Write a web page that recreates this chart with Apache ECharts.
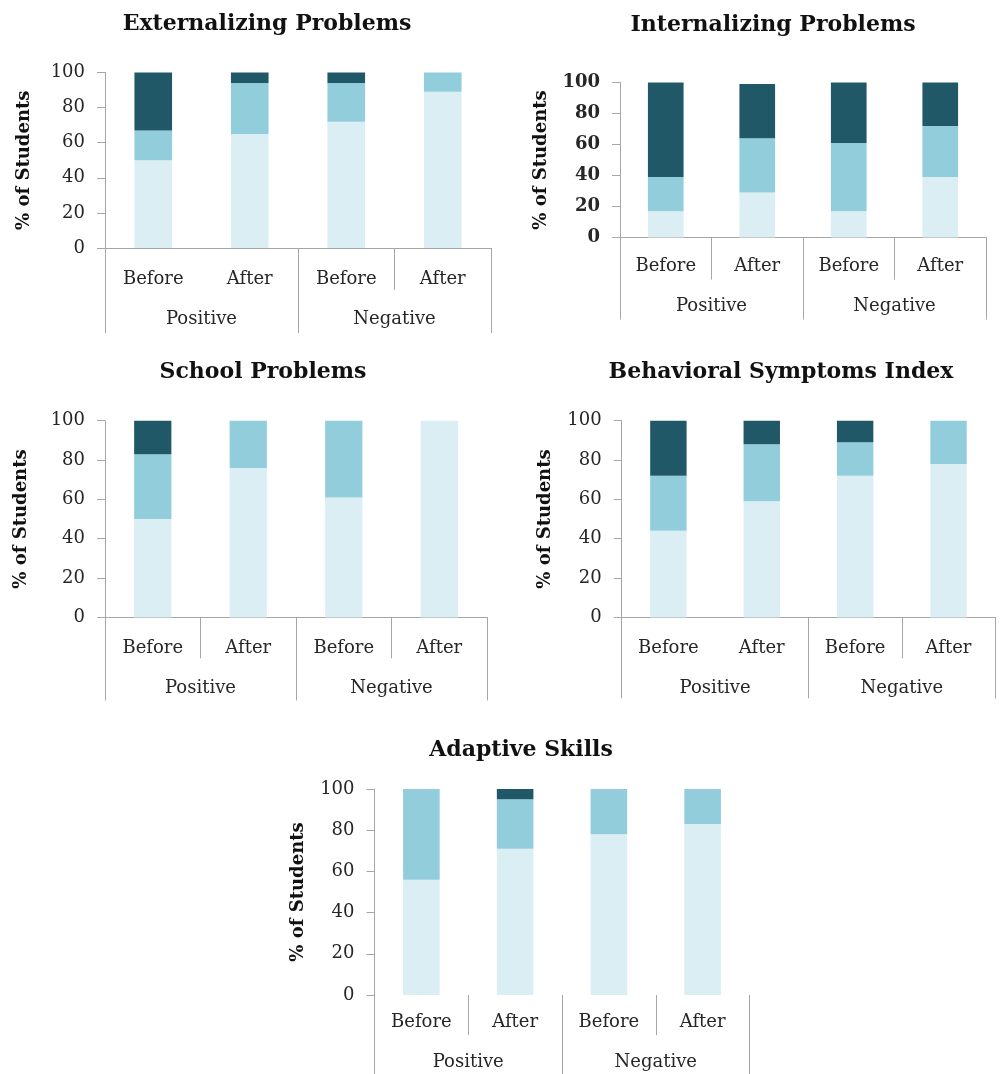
<!DOCTYPE html>
<html><head><meta charset="utf-8">
<script src="https://cdn.jsdelivr.net/npm/echarts@6/dist/echarts.min.js"></script>
<style>html,body{margin:0;padding:0;background:#fff}#c{width:1000px;height:1074px}</style>
</head><body><div id="c"></div>
<script>
// ---- data ----
const categories = ['Before', 'After', 'Before', 'After'];
const groups = ['Positive', 'Negative'];
const chartTitles = ['Externalizing Problems', 'Internalizing Problems', 'School Problems', 'Behavioral Symptoms Index', 'Adaptive Skills'];
const yAxisName = '% of Students';
const seriesNames = ['Average', 'At-Risk', 'Clinically Significant'];

const extAverage = [50, 65, 72, 89];
const extAtRisk = [17, 29, 22, 11];
const extClinical = [33, 6, 6, 0];

const intAverage = [17, 29, 17, 39];
const intAtRisk = [22, 35, 44, 33];
const intClinical = [61, 35, 39, 28];

const schAverage = [50, 76, 61, 100];
const schAtRisk = [33, 24, 39, 0];
const schClinical = [17, 0, 0, 0];

const bsiAverage = [44, 59, 72, 78];
const bsiAtRisk = [28, 29, 17, 22];
const bsiClinical = [28, 12, 11, 0];

const adaAverage = [56, 71, 78, 83];
const adaAtRisk = [44, 24, 22, 17];
const adaClinical = [0, 5, 0, 0];

const chartData = [
  [extAverage, extAtRisk, extClinical],
  [intAverage, intAtRisk, intClinical],
  [schAverage, schAtRisk, schClinical],
  [bsiAverage, bsiAtRisk, bsiClinical],
  [adaAverage, adaAtRisk, adaClinical]
];

// ---- layout / style ----
const colors = ['#DAEEF3', '#92CDDC', '#215868'];
const axisGray = '#a6a6a6';
const textColor = '#262626';
const FONT = 'DejaVu Serif';

const layouts = [
  {left: 105, top: 72.5, width: 386, height: 175.5, tx: 262, ty: 8, gap: 72, skipInner: true, xLine: true, bold: false, inLen: 42, outLen: 85, inM: 22, outM: 62},
  {left: 620, top: 82.5, width: 366, height: 155, tx: 768, ty: 9, gap: 70, skipInner: false, xLine: true, bold: true, inLen: 42, outLen: 82, inM: 20, outM: 60},
  {left: 105, top: 420.7, width: 382, height: 196.7, tx: 258, ty: 356, gap: 75, skipInner: false, xLine: true, bold: false, inLen: 41, outLen: 83, inM: 22, outM: 62},
  {left: 621.7, top: 420.7, width: 373.5, height: 196.7, tx: 776, ty: 356, gap: 67, skipInner: true, xLine: true, bold: false, inLen: 41, outLen: 81, inM: 22, outM: 62},
  {left: 374.5, top: 789, width: 375, height: 206, tx: 516, ty: 734, gap: 67, skipInner: false, xLine: false, bold: false, inLen: 40, outLen: 90, inM: 18, outM: 58}
];

const option = {
  animation: false,
  backgroundColor: '#fff',
  title: [], grid: [], xAxis: [], yAxis: [], series: []
};

layouts.forEach((L, i) => {
  option.title.push({
    text: chartTitles[i], left: L.tx, top: L.ty, textAlign: 'center',
    textStyle: {fontFamily: FONT, fontWeight: 'bold', fontSize: 22, color: '#111'}
  });
  option.grid.push({left: L.left, top: L.top, width: L.width, height: L.height, containLabel: false});
  option.xAxis.push({
    type: 'category', gridIndex: i, data: categories, position: 'bottom',
    axisLine: {show: L.xLine, lineStyle: {color: axisGray, width: 1}},
    axisTick: {show: true, length: L.inLen, lineStyle: {color: axisGray},
      interval: (idx) => !(L.skipInner && idx === 1)},
    axisLabel: {interval: 0, margin: L.inM, fontFamily: FONT, fontSize: 18, color: textColor},
    splitLine: {show: false}
  });
  option.xAxis.push({
    type: 'category', gridIndex: i, data: groups, position: 'bottom',
    axisLine: {show: false},
    axisTick: {show: true, length: L.outLen, lineStyle: {color: axisGray}},
    axisLabel: {interval: 0, margin: L.outM, fontFamily: FONT, fontSize: 18, color: textColor},
    splitLine: {show: false}
  });
  option.yAxis.push({
    type: 'value', gridIndex: i, min: 0, max: 100, interval: 20,
    name: yAxisName, nameLocation: 'middle', nameGap: L.gap,
    nameTextStyle: {fontFamily: FONT, fontWeight: 'bold', fontSize: 18, color: '#111'},
    axisLine: {show: true, lineStyle: {color: axisGray}},
    axisTick: {show: true, length: 8, lineStyle: {color: axisGray}},
    axisLabel: {margin: 20, fontFamily: FONT, fontSize: 18, color: textColor, fontWeight: L.bold ? 'bold' : 'normal'},
    splitLine: {show: false}
  });
  chartData[i].forEach((vals, k) => {
    option.series.push({
      type: 'bar', name: seriesNames[k], xAxisIndex: i * 2, yAxisIndex: i,
      stack: 'c' + i, data: vals, barWidth: '39%',
      itemStyle: {color: colors[k]}, emphasis: {disabled: true}
    });
  });
});

const chart = echarts.init(document.getElementById('c'), null, {renderer: 'canvas'});
chart.setOption(option);
</script></body></html>
